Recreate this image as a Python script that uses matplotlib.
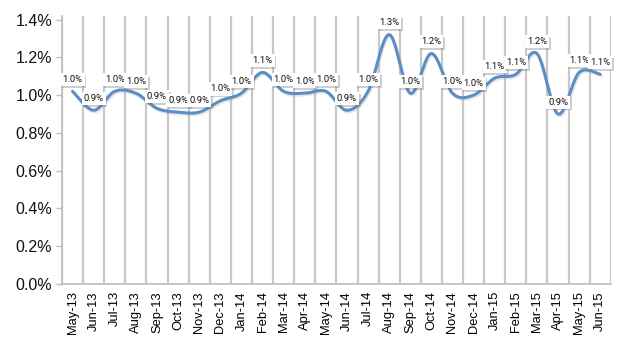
import numpy as np
import matplotlib
matplotlib.use("Agg")
import matplotlib.pyplot as plt
import matplotlib.patheffects as pe
from matplotlib.ticker import FuncFormatter

months = ["May-13", "Jun-13", "Jul-13", "Aug-13", "Sep-13", "Oct-13", "Nov-13",
          "Dec-13", "Jan-14", "Feb-14", "Mar-14", "Apr-14", "May-14", "Jun-14",
          "Jul-14", "Aug-14", "Sep-14", "Oct-14", "Nov-14", "Dec-14", "Jan-15",
          "Feb-15", "Mar-15", "Apr-15", "May-15", "Jun-15"]
rate = [1.02, 0.92, 1.02, 1.01, 0.93, 0.91, 0.91, 0.97, 1.01, 1.12, 1.02, 1.01,
        1.02, 0.92, 1.02, 1.32, 1.01, 1.22, 1.01, 1.00, 1.09, 1.11, 1.22, 0.90,
        1.12, 1.11]
yticks = [0.0, 0.2, 0.4, 0.6, 0.8, 1.0, 1.2, 1.4]

plt.rcParams['font.family'] = ['Liberation Sans', 'DejaVu Sans']


def smooth(x, y, n=24):
    # Catmull-Rom style bezier through every point (like a spreadsheet "smoothed line")
    x = np.asarray(x, float)
    y = np.asarray(y, float)
    px = np.concatenate([[x[0]], x, [x[-1]]])
    py = np.concatenate([[y[0]], y, [y[-1]]])
    xs, ys = [], []
    t = np.linspace(0, 1, n, endpoint=False)
    for i in range(len(x) - 1):
        p0 = np.array([px[i + 1], py[i + 1]])
        p3 = np.array([px[i + 2], py[i + 2]])
        p1 = p0 + (p3 - np.array([px[i], py[i]])) / 6
        p2 = p3 - (np.array([px[i + 3], py[i + 3]]) - p0) / 6
        b = ((1 - t) ** 3)[:, None] * p0 + (3 * (1 - t) ** 2 * t)[:, None] * p1 \
            + (3 * (1 - t) * t ** 2)[:, None] * p2 + (t ** 3)[:, None] * p3
        xs.append(b[:, 0])
        ys.append(b[:, 1])
    xs.append([x[-1]])
    ys.append([y[-1]])
    return np.concatenate(xs), np.concatenate(ys)


fig = plt.figure(figsize=(6.22, 3.37), dpi=100)
ax = fig.add_axes([0.0997, 0.157, 0.8823, 0.7963])

idx = np.arange(len(months))
ax.set_xlim(-0.5, len(months) - 0.5)
ax.set_ylim(0, 1.42)

# vertical gridlines sit on the category boundaries
for b in np.arange(len(months) + 1) - 0.5:
    ax.axvline(b, color="#c8c8c8", lw=1.6, zorder=1)

sx, sy = smooth(idx, rate)
ax.plot(sx, sy, color="#5b8ec4", lw=2.2, zorder=3, solid_capstyle="round",
        path_effects=[pe.SimpleLineShadow(offset=(0.8, -1.2), shadow_color="#999999", alpha=0.25),
                      pe.Normal()])

# data labels in white boxes with a small drop shadow
for i, v in zip(idx, rate):
    t = ax.annotate(f"{v:.1f}%", (i, v), xytext=(0, 8.5), textcoords="offset points",
                    ha="center", va="center", fontsize=6.8, color="#111111", zorder=5,
                    family=["Roboto", "Liberation Sans"],
                    bbox=dict(boxstyle="square,pad=0.22", fc="white", ec="none"))
    t.get_bbox_patch().set_path_effects([
        pe.SimplePatchShadow(offset=(1.2, -1.2), shadow_rgbFace="#777777", alpha=0.35),
        pe.Normal()])

ax.set_yticks(yticks)
ax.yaxis.set_major_formatter(FuncFormatter(lambda v, p: f"{v:.1f}%"))
ax.set_xticks(idx)
ax.set_xticklabels(months, rotation=90, fontsize=9.3)
ax.tick_params(axis="x", length=0, pad=5)
ax.tick_params(axis="y", labelsize=11.5, length=4, width=1, color="#bdbdbd", pad=3,
               labelcolor="#111111")

for s in ["top", "right"]:
    ax.spines[s].set_visible(False)
for s in ["left", "bottom"]:
    ax.spines[s].set_color("#bdbdbd")
    ax.spines[s].set_linewidth(1.2)

fig.savefig("out.png", dpi=100)
